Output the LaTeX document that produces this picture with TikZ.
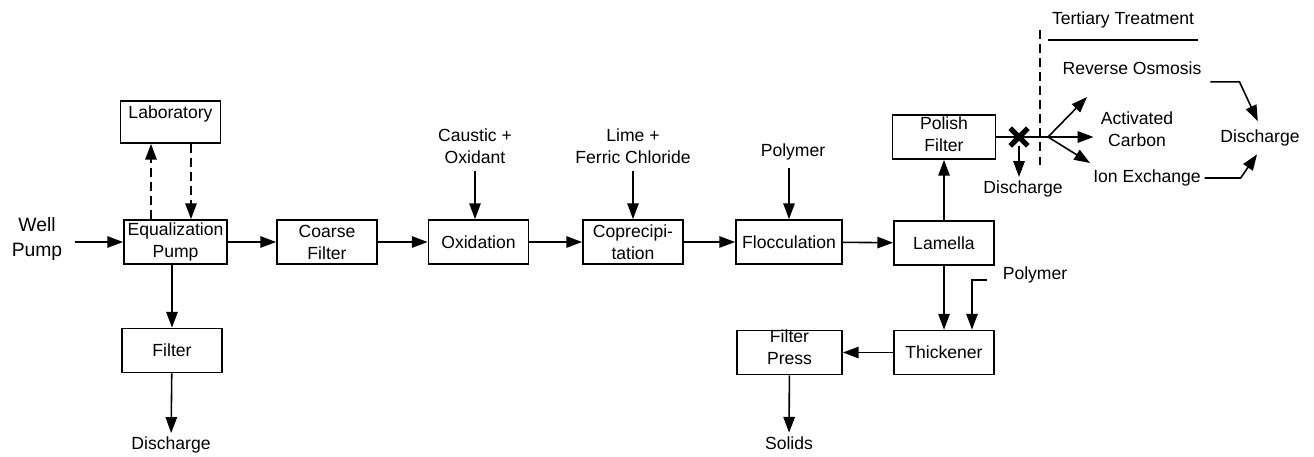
\documentclass[tikz,border=0pt]{standalone}
\usepackage{fontspec}
\setmainfont{Liberation Sans}
\usetikzlibrary{arrows.meta, positioning, shapes.misc}

\begin{document}
\begin{tikzpicture}[font=\fontsize{10}{12.5}\selectfont,
    box/.style={draw, line width=1pt, minimum width=2cm, minimum height=0.88cm, inner sep=1pt, align=center},
    lbl/.style={align=center, inner sep=2pt},
    arr/.style={-{Triangle[length=9pt,width=6.5pt]}, line width=0.9pt},
    dsh/.style={arr, dash pattern=on 5pt off 3pt}]
  \useasboundingbox (0,0) rectangle (26.28,-9.12);
  \node[box, minimum height=0.84cm, label={[anchor=north, inner sep=3pt]north:Laboratory}] (lab) at (3.41,-2.44) {};
  \node[box, minimum width=2.06cm] (eq) at (3.51,-4.84) {Equalization\\Pump};
  \node[box] (filt) at (3.44,-7.01) {Filter};
  \node[box] (coarse) at (6.54,-4.84) {Coarse\\Filter};
  \node[box] (oxid) at (9.57,-4.84) {Oxidation};
  \node[box] (coprec) at (12.66,-4.84) {Coprecipi-\\tation};
  \node[box, minimum width=2.12cm] (flocc) at (15.78,-4.84) {Flocculation};
  \node[box] (lam) at (18.88,-4.86) {Lamella};
  \node[box, minimum width=2.06cm, label={[anchor=north, inner sep=1.5pt, align=center]north:Polish\\Filter}] (pol) at (18.88,-2.74) {};
  \node[box] (thick) at (18.88,-7.05) {Thickener};
  \node[box, minimum width=2.1cm, label={[anchor=north, inner sep=0pt, align=center]north:Filter\\Press}] (press) at (15.79,-7.05) {};

  \node[lbl, font=\fontsize{11}{14}\selectfont] (well) at (0.74,-4.78) {Well\\Pump};
  \node[lbl] (dis1) at (3.42,-8.9) {Discharge};
  \node[lbl] (caus) at (9.5,-2.92) {Caustic +\\Oxidant};
  \node[lbl] (lime) at (12.66,-2.92) {Lime +\\Ferric Chloride};
  \node[lbl] (poly1) at (15.86,-3.04) {Polymer};
  \node[lbl] (poly2) at (20.7,-5.5) {Polymer};
  \node[lbl] (solids) at (15.78,-8.86) {Solids};

  \draw[arr] ([xshift=5pt]well.east |- eq) -- (eq);
  \foreach \a/\b in {eq/coarse, coarse/oxid, oxid/coprec, coprec/flocc, flocc/lam}
    \draw[arr] (\a) -- (\b);
  \draw[dsh] ([xshift=-0.49cm]eq.north) -- ([xshift=-0.49cm]eq.north |- lab.south);
  \draw[dsh] ([xshift=0.31cm]eq.north |- lab.south) -- ([xshift=0.31cm]eq.north);
  \draw[arr] (filt |- eq.south) -- (filt);
  \draw[arr] (filt) -- (dis1);
  \draw[arr, shorten <=2pt] (caus.south) -- (caus.south |- oxid.north);
  \draw[arr, shorten <=2pt] (lime.south) -- (lime.south |- coprec.north);
  \draw[arr, shorten <=2pt] (flocc |- poly1.south) -- (flocc);
  \draw[arr] (lam) -- (pol);
  \draw[arr] (lam) -- (thick);
  \draw[arr] ([xshift=-7pt,yshift=-0.1cm]poly2.west) -| ([xshift=0.56cm]thick.north);
  \draw[arr] (thick) -- (press);
  \draw[arr] (press) -- (solids);

  \coordinate (br) at (20.96,-2.74);
  \draw[line width=0.9pt] (pol) -- (br);
  \node[cross out, draw, line width=3pt, minimum size=7pt, inner sep=0pt] (xm) at (20.38,-2.74) {};
  \node[lbl] (dis2) at (20.46,-3.78) {Discharge};
  \draw[arr] (xm) -- (xm |- dis2.north);

  \coordinate (divtop) at (20.8,-0.6);
  \coordinate (divbot) at (20.8,-3.4);
  \draw[line width=0.9pt, dash pattern=on 5pt off 3pt] (divtop) -- (divbot);
  \node[lbl] (tert) at (22.46,-0.4) {Tertiary Treatment};
  \draw[line width=0.9pt] ([yshift=-0.16cm]tert.south west) -- ([yshift=-0.16cm]tert.south east);

  \node[lbl] (ro) at (22.64,-1.36) {Reverse Osmosis};
  \node[lbl] (ac) at (22.74,-2.58) {Activated\\Carbon};
  \node[lbl] (ion) at (22.94,-3.56) {Ion Exchange};
  \node[lbl] (dis3) at (25.2,-2.76) {Discharge};
  \coordinate (roin) at (21.74,-1.94);
  \coordinate (ionin) at (21.8,-3.26);
  \draw[arr] (br) -- (roin);
  \draw[arr, shorten >=2pt] (br) -- (br -| ac.west);
  \draw[arr] (br) -- (ionin);
  \draw[arr, shorten >=3pt] ([xshift=3pt,yshift=-2pt]ro.south east) -- ++(0.58,0) -- (dis3.north);
  \draw[arr, shorten >=3pt] (ion.east) -- ++(0.72,0) -- (dis3.south);
\end{tikzpicture}
\end{document}
